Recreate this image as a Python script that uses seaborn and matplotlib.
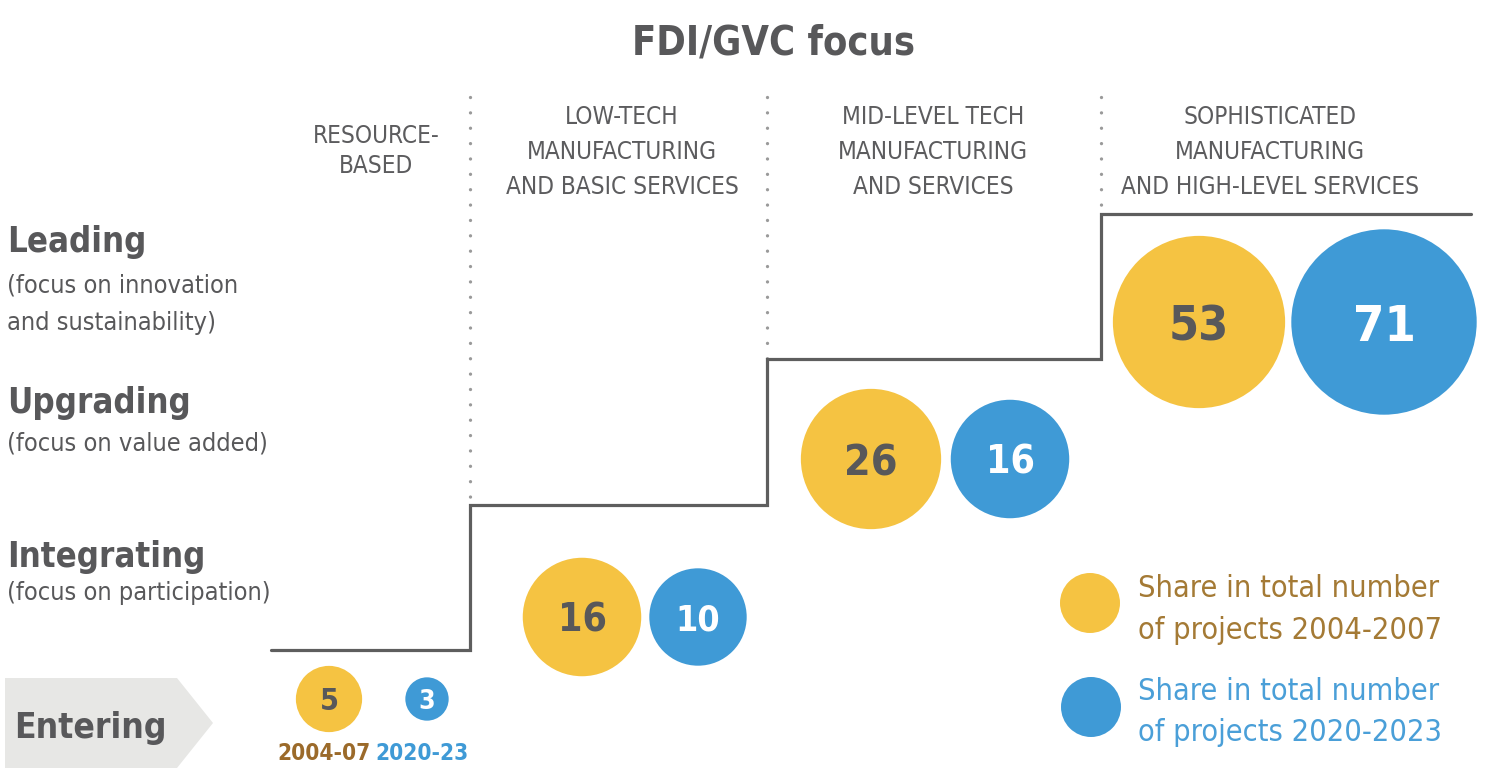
import numpy as np
import pandas as pd
import matplotlib
matplotlib.use("Agg")
import matplotlib.pyplot as plt
import seaborn as sns
from matplotlib import font_manager
from matplotlib.patches import Polygon

# ---------------- data ----------------
stages = ["Entering", "Integrating", "Upgrading", "Leading"]
stage_notes = ["", "(focus on participation)", "(focus on value added)",
               "(focus on innovation\nand sustainability)"]
focus_labels = ["RESOURCE-\nBASED",
                "LOW-TECH\nMANUFACTURING\nAND BASIC SERVICES",
                "MID-LEVEL TECH\nMANUFACTURING\nAND SERVICES",
                "SOPHISTICATED\nMANUFACTURING\nAND HIGH-LEVEL SERVICES"]
periods = ["2004-07", "2020-23"]
share_2004_07 = [5, 16, 26, 53]
share_2020_23 = [3, 10, 16, 71]
legend_labels = ["Share in total number\nof projects 2004-2007",
                 "Share in total number\nof projects 2020-2023"]

# ---------------- layout (pixel coords, y down) ----------------
W, H = 1492, 773
x_old = [329, 582, 871, 1199]
x_new = [427, 698, 1010, 1384]
row_y = [699, 617, 459, 322]
step_x = [271, 470, 767, 1101, 1471]
step_y = [650, 505, 359, 214]
label_base = [738, 567, 413, 252]      # baseline of stage names
header_x = [376, 622, 933, 1270]

YELLOW = "#f5c342"
BLUE = "#3f9ad6"
GREY = "#58585a"
BROWN = "#a47a35"
BROWN_DARK = "#9b6a2a"
LBLUE = "#4a9fd8"


def diameter(v):
    # bubble diameter in pixels (log-like scaling as in the original)
    return 44.9 * np.log(v) - 6


def area(d_px):
    return (d_px * 72 / 100) ** 2


# ---------------- fonts ----------------
sns.set_theme(style="white")
fonts = font_manager.fontManager.ttflist
names = {f.name for f in fonts}
stretch = "normal"
if "Liberation Sans Narrow" in names:
    fam = "Liberation Sans Narrow"
elif any(f.name == "DejaVu Sans" and f.stretch != "normal" for f in fonts):
    fam, stretch = "DejaVu Sans", "condensed"
else:
    fam = "Roboto"
plt.rcParams["font.family"] = [fam, "DejaVu Sans"]
plt.rcParams["font.stretch"] = stretch

fig = plt.figure(figsize=(14.92, 7.73), dpi=100)
ax = fig.add_axes([0, 0, 1, 1])
ax.set_xlim(0, W)
ax.set_ylim(H, 0)
ax.axis("off")

groups = {}   # name -> list of (text, target width in px)


def add(group, width, *args, **kw):
    t = ax.text(*args, **kw)
    groups.setdefault(group, []).append((t, width))
    return t


# title
add("title", 283, 773, 55, "FDI/GVC focus", ha="center", va="baseline",
    fontsize=35, fontweight="bold", color=GREY)

# column headers
head_w = {"AND BASIC SERVICES": 240, "AND HIGH-LEVEL SERVICES": 305,
          "MID-LEVEL TECH": 183}
for i, lab in enumerate(focus_labels):
    lines = lab.split("\n")
    base = [143, 173] if len(lines) == 2 else [124, 159, 194]
    for ln, b in zip(lines, base):
        add("head", head_w.get(ln), header_x[i], b, ln, ha="center",
            va="baseline", fontsize=21, color="#5c5c5e")

# dotted separators
for i in range(1, 4):
    ax.plot([step_x[i], step_x[i]], [97, step_y[i]], color="#9a9a9a", lw=2.4,
            linestyle=(0, (0.01, 4.6)), dash_capstyle="round",
            solid_capstyle="round")

# staircase
sx, sy = [step_x[0]], [step_y[0]]
for i in range(1, 4):
    sx += [step_x[i], step_x[i]]
    sy += [step_y[i - 1], step_y[i]]
sx.append(step_x[4])
sy.append(step_y[3])
ax.plot(sx, sy, color="#5e5e5e", lw=2.3, solid_joinstyle="miter", zorder=2)

# "Entering" tab
ax.add_patch(Polygon([(5, 678), (177, 678), (213, 723), (177, 768), (5, 768)],
                     closed=True, facecolor="#e7e7e5", edgecolor="none"))

# stage labels
stage_w = [153, 198, 185, 141]
for i, st in enumerate(stages):
    add("enter" if i == 0 else "stage", stage_w[i],
        14 if i == 0 else 7, label_base[i], st, ha="left", va="baseline",
        fontsize=33 if i == 0 else 31, fontweight="bold", color=GREY)
note_base = [[], [600], [450], [292, 330]]
note_w = {"(focus on participation)": 265, "(focus on value added)": 264,
          "(focus on innovation": 234}
for i, note in enumerate(stage_notes):
    for ln, b in zip(note.split("\n") if note else [], note_base[i]):
        add("note", note_w.get(ln), 7, b, ln, ha="left", va="baseline",
            fontsize=21, color=GREY)

# bubbles
df = pd.DataFrame({
    "stage": stages * 2,
    "period": [periods[0]] * 4 + [periods[1]] * 4,
    "share": share_2004_07 + share_2020_23,
    "x": x_old + x_new,
    "y": row_y + row_y,
})
df["d"] = diameter(df["share"])
sns.scatterplot(data=df, x="x", y="y", hue="period",
                palette={periods[0]: YELLOW, periods[1]: BLUE},
                s=area(df["d"]).to_numpy(), linewidth=0, legend=False,
                ax=ax, zorder=3)
for _, r in df.iterrows():
    ax.text(r["x"], r["y"], f"{r['share']}", ha="center", va="center_baseline",
            fontsize=0.12 * r["d"] + 14, fontweight="bold",
            color=GREY if r["period"] == periods[0] else "white", zorder=4)

# period labels under the entering bubbles
for p, xx, c in zip(periods, [x_old[0] - 5, x_new[0] - 5], [BROWN_DARK, BLUE]):
    add("period", 93, xx, 760, p, ha="center", va="baseline", fontsize=21,
        fontweight="bold", color=c)

# legend
leg = pd.DataFrame({"period": periods, "x": [1090, 1091], "y": [603, 707]})
sns.scatterplot(data=leg, x="x", y="y", hue="period",
                palette={periods[0]: YELLOW, periods[1]: BLUE},
                s=area(60), linewidth=0, legend=False, ax=ax)
for lab, bases, c in zip(legend_labels, [[597, 639], [700, 741]], [BROWN, LBLUE]):
    for ln, b in zip(lab.split("\n"), bases):
        add("legend", 314 if "of" in ln else None, 1138, b, ln, ha="left",
            va="baseline", fontsize=22, color=c)

# shrink each text group so its widest lines match the original widths
renderer = fig.canvas.get_renderer()
for items in groups.values():
    f = 1.0
    for t, w in items:
        if w:
            f = min(f, w / t.get_window_extent(renderer).width)
    for t, _ in items:
        t.set_fontsize(t.get_fontsize() * f)

ax.set_xlim(0, W)
ax.set_ylim(H, 0)
fig.savefig("out.png", dpi=100, facecolor="white")
